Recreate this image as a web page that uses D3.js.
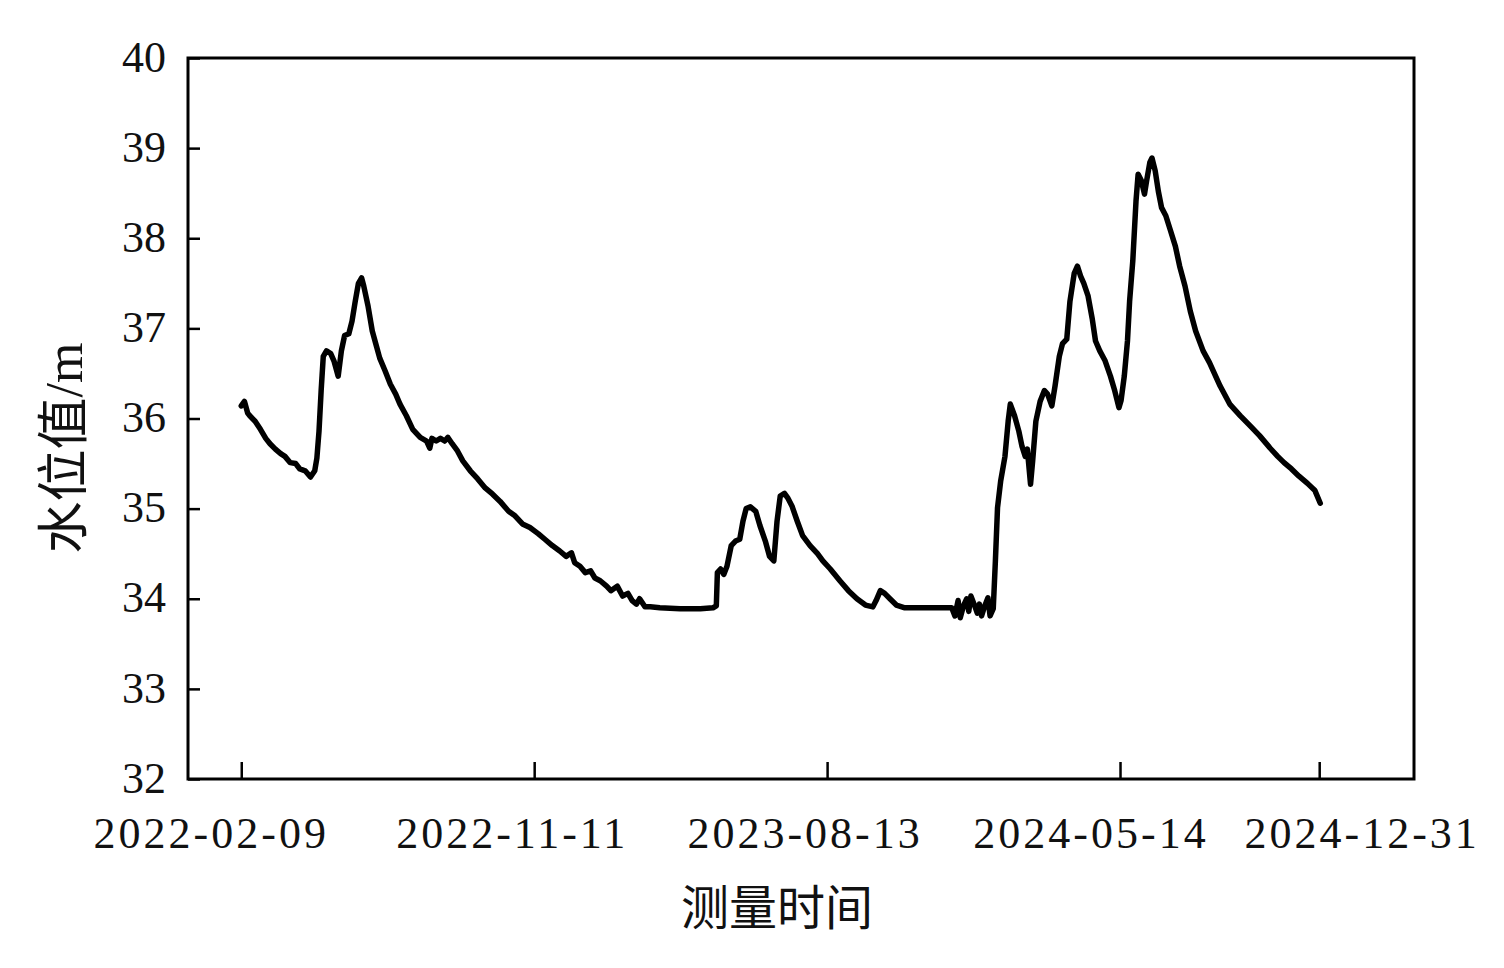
<!DOCTYPE html>
<html>
<head>
<meta charset="utf-8">
<script src="https://cdn.jsdelivr.net/npm/d3@7"></script>
<style>
  html, body { margin: 0; padding: 0; background: #fff; }
  svg { display: block; }
</style>
</head>
<body>
<script>
// ---- data ----
const sampleIdx = [0,3,6,8,13,18,23,27,32,37,41,46,51,55,60,65,69,71,73,75,77,80,84,87,91,94,97,101,104,107,110,113,115,119,123,127,130,135,140,145,149,155,161,168,174,177,179,183,187,191,194,198,203,208,215,222,229,236,243,251,257,264,271,279,285,292,299,305,310,313,318,323,328,332,337,343,347,353,358,363,367,371,374,379,384,393,412,431,443,446,447,450,453,456,460,464,468,471,474,478,483,487,492,496,500,503,506,510,513,517,522,527,534,541,546,553,562,570,578,586,593,596,600,604,609,615,623,637,656,667,670,673,675,678,681,683,685,688,691,693,695,698,701,703,706,708,710,713,717,720,722,726,730,733,736,738,741,743,746,750,754,757,761,764,768,771,775,778,782,785,788,791,795,799,802,806,811,816,820,824,826,829,832,834,837,840,842,845,848,850,853,855,858,861,864,868,872,877,881,886,891,896,903,909,919,928,938,947,956,966,973,979,986,993,1001,1008,1013];
const waterLevel = [36.14,36.19,36.06,36.03,35.97,35.88,35.78,35.72,35.66,35.61,35.58,35.51,35.50,35.44,35.42,35.35,35.42,35.56,35.86,36.31,36.69,36.75,36.72,36.64,36.47,36.75,36.92,36.94,37.08,37.30,37.50,37.56,37.47,37.25,36.97,36.80,36.67,36.53,36.38,36.27,36.16,36.03,35.88,35.79,35.75,35.67,35.78,35.75,35.78,35.75,35.79,35.72,35.64,35.53,35.42,35.33,35.23,35.16,35.08,34.97,34.92,34.83,34.79,34.72,34.66,34.59,34.53,34.47,34.51,34.40,34.36,34.29,34.31,34.23,34.20,34.14,34.09,34.14,34.03,34.06,33.98,33.94,34.00,33.91,33.91,33.90,33.89,33.89,33.90,33.92,34.29,34.33,34.27,34.36,34.59,34.64,34.66,34.86,35.00,35.02,34.97,34.81,34.64,34.47,34.42,34.86,35.14,35.17,35.12,35.03,34.86,34.70,34.59,34.50,34.42,34.33,34.20,34.09,34.00,33.93,33.91,33.98,34.09,34.06,34.00,33.93,33.90,33.90,33.90,33.90,33.81,33.98,33.79,33.92,34.00,33.86,34.03,33.94,33.84,33.94,33.81,33.92,34.01,33.81,33.89,34.42,35.01,35.31,35.58,35.97,36.16,36.03,35.86,35.69,35.58,35.66,35.27,35.53,35.97,36.19,36.31,36.27,36.14,36.36,36.69,36.83,36.88,37.30,37.61,37.69,37.58,37.50,37.36,37.10,36.86,36.75,36.64,36.47,36.31,36.12,36.20,36.47,36.86,37.30,37.75,38.41,38.71,38.64,38.49,38.64,38.84,38.89,38.75,38.52,38.34,38.25,38.10,37.91,37.69,37.47,37.19,36.97,36.75,36.62,36.36,36.16,36.03,35.92,35.81,35.67,35.58,35.51,35.44,35.36,35.28,35.20,35.06];
const xTickIdx = [0, 275, 550, 825, 1012];
const xTickLabels = ["2022-02-09", "2022-11-11", "2023-08-13", "2024-05-14", "2024-12-31"];
const yTickValues = [32, 33, 34, 35, 36, 37, 38, 39, 40];
const xTitle = "测量时间";
const yTitleCJK = "水位值";
const yTitleUnit = "/m";

// ---- layout ----
const W = 1504, H = 968;
const mLeft = 188, mRight = 1414, mTop = 58, mBottom = 779;
const labelShift = [-32, -24, -24, -31, 41];

const svg = d3.select("body").append("svg").attr("width", W).attr("height", H);

const x = d3.scaleLinear().domain([-50, 1101]).range([mLeft, mRight]);
const y = d3.scaleLinear().domain([32, 40]).range([mBottom, mTop]);

// frame
svg.append("rect")
  .attr("x", mLeft).attr("y", mTop)
  .attr("width", mRight - mLeft).attr("height", mBottom - mTop)
  .attr("fill", "none").attr("stroke", "#000").attr("stroke-width", 3);

// y axis (ticks inward)
const yAxis = svg.append("g")
  .attr("transform", `translate(${mLeft},0)`)
  .call(d3.axisLeft(y).tickValues(yTickValues).tickSizeInner(-12).tickSizeOuter(0).tickPadding(22).tickFormat(d3.format("d")));
yAxis.select(".domain").remove();
yAxis.selectAll(".tick line").attr("stroke", "#000").attr("stroke-width", 2.5);
yAxis.selectAll(".tick text")
  .attr("font-family", "'Liberation Serif', 'Times New Roman', serif")
  .attr("font-size", 44).attr("fill", "#111")
  .attr("dy", "0.3em");

// x axis (ticks inward)
const xAxis = svg.append("g")
  .attr("transform", `translate(0,${mBottom})`)
  .call(d3.axisBottom(x).tickValues(xTickIdx).tickSizeInner(-17).tickSizeOuter(0).tickPadding(0)
        .tickFormat((d, i) => xTickLabels[i]));
xAxis.select(".domain").remove();
xAxis.selectAll(".tick line").attr("stroke", "#000").attr("stroke-width", 2.5);
xAxis.selectAll(".tick text")
  .attr("font-family", "'Liberation Serif', 'Times New Roman', serif")
  .attr("font-size", 44).attr("fill", "#111")
  .attr("letter-spacing", 3)
  .attr("y", 69).attr("dy", 0)
  .attr("x", (d, i) => labelShift[i] + 1.5);

// line
const points = d3.zip(sampleIdx, waterLevel);
const line = d3.line()
  .x(d => x(d[0]))
  .y(d => y(d[1]))
  .curve(d3.curveLinear);
svg.append("path")
  .datum(points)
  .attr("d", line)
  .attr("fill", "none").attr("stroke", "#000")
  .attr("stroke-width", 5.5)
  .attr("stroke-linejoin", "round").attr("stroke-linecap", "round");

// axis titles
svg.append("text")
  .attr("x", 777).attr("y", 925)
  .attr("text-anchor", "middle")
  .attr("font-family", "'Noto Sans CJK SC', sans-serif")
  .attr("font-size", 48).attr("fill", "#111")
  .text(xTitle);

const yt = svg.append("text")
  .attr("transform", "translate(82,448) rotate(-90)")
  .attr("text-anchor", "middle")
  .attr("font-size", 52).attr("fill", "#111");
yt.append("tspan").attr("font-family", "'Noto Sans CJK SC', sans-serif").text(yTitleCJK);
yt.append("tspan").attr("font-family", "'Liberation Serif', serif").text(yTitleUnit);
</script>
</body>
</html>
